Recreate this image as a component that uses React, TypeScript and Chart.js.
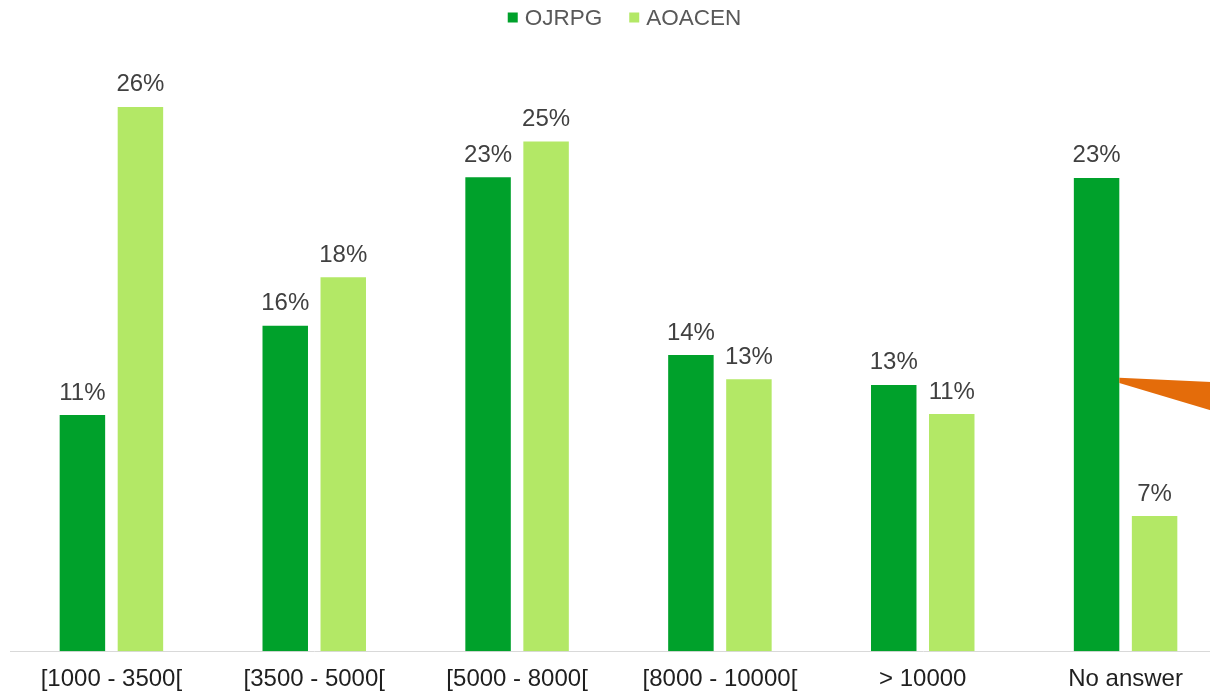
import React, { useEffect, useRef } from "react";
import { Chart, registerables } from "chart.js";

Chart.register(...registerables);

// Income brackets and the share of respondents in each
const categories = ["[1000 - 3500[", "[3500 - 5000[", "[5000 - 8000[", "[8000 - 10000[", "> 10000", "No answer"];
const seriesNames = ["OJRPG", "AOACEN"];
const ojrpgValues = [11.44, 15.77, 22.96, 14.35, 12.9, 22.93];
const aoacenValues = [26.37, 18.12, 24.7, 13.17, 11.49, 6.55];
const seriesColors = ["#00A12B", "#B3E866"];

// Orange callout pointer: tip at the last OJRPG bar, widening to the right (values in %)
const calloutTip = [13.25, 13.0];
const calloutFarCategory = 5.9;
const calloutFar = [12.82, 10.26];

const FONT = "'Liberation Sans', Arial, 'DejaVu Sans', sans-serif";

const valueLabels = {
  id: "valueLabels",
  afterDatasetsDraw(chart: any) {
    const ctx = chart.ctx;
    ctx.save();
    ctx.font = `24px ${FONT}`;
    ctx.fillStyle = "#404040";
    ctx.textAlign = "center";
    ctx.textBaseline = "alphabetic";
    chart.data.datasets.forEach((ds: any, di: number) => {
      const meta = chart.getDatasetMeta(di);
      meta.data.forEach((bar: any, i: number) => {
        const v = ds.data[i];
        ctx.fillText(`${Math.round(v)}%`, bar.x, bar.y - 15.5);
      });
    });
    ctx.restore();
  },
};

const callout = {
  id: "callout",
  afterDatasetsDraw(chart: any) {
    const ctx = chart.ctx;
    const y = chart.scales.y;
    const x = chart.scales.x;
    const bar: any = chart.getDatasetMeta(0).data[categories.length - 1];
    const tipX = bar.x + bar.width / 2;
    const farX = x.getPixelForValue(calloutFarCategory);
    ctx.save();
    ctx.fillStyle = "#E46C0A";
    ctx.beginPath();
    ctx.moveTo(tipX, y.getPixelForValue(calloutTip[0]));
    ctx.lineTo(farX, y.getPixelForValue(calloutFar[0]));
    ctx.lineTo(farX, y.getPixelForValue(calloutFar[1]));
    ctx.lineTo(tipX, y.getPixelForValue(calloutTip[1]));
    ctx.closePath();
    ctx.fill();
    ctx.restore();
  },
};

const topLegend = {
  id: "topLegend",
  afterDraw(chart: any) {
    const ctx = chart.ctx;
    const box = 10;
    const textGap = 7;
    const itemGap = 27;
    const cy = 17.5;
    ctx.save();
    ctx.font = `22.5px ${FONT}`;
    const items = chart.data.datasets.map((ds: any) => ({
      label: ds.label,
      color: ds.backgroundColor,
      w: ctx.measureText(ds.label).width,
    }));
    const total =
      items.reduce((s: number, it: any) => s + box + textGap + it.w, 0) + itemGap * (items.length - 1);
    let cx = chart.width / 2 - total / 2;
    ctx.textBaseline = "middle";
    ctx.textAlign = "left";
    items.forEach((it: any) => {
      ctx.fillStyle = it.color;
      ctx.fillRect(cx, cy - box / 2, box, box);
      cx += box + textGap;
      ctx.fillStyle = "#595959";
      ctx.fillText(it.label, cx, cy + 1);
      cx += it.w + itemGap;
    });
    ctx.restore();
  },
};

export default function App() {
  const canvasRef = useRef<HTMLCanvasElement | null>(null);

  useEffect(() => {
    if (!canvasRef.current) return;
    const chart = new Chart(canvasRef.current, {
      type: "bar",
      data: {
        labels: categories,
        datasets: [
          {
            label: seriesNames[0],
            data: ojrpgValues,
            backgroundColor: seriesColors[0],
            categoryPercentage: 0.572,
            barPercentage: 0.784,
          },
          {
            label: seriesNames[1],
            data: aoacenValues,
            backgroundColor: seriesColors[1],
            categoryPercentage: 0.572,
            barPercentage: 0.784,
          },
        ],
      },
      options: {
        animation: false,
        responsive: true,
        maintainAspectRatio: false,
        layout: { padding: { top: 32, left: 10, right: 22, bottom: 0 } },
        plugins: {
          legend: { display: false },
          tooltip: { enabled: false },
        },
        scales: {
          x: {
            grid: { display: false, drawTicks: false },
            border: { display: true, color: "#D9D9D9", width: 1 },
            ticks: {
              color: "#1F1F1F",
              padding: 14,
              font: { family: FONT, size: 24 },
              maxRotation: 0,
              autoSkip: false,
            },
          },
          y: {
            display: false,
            min: 0,
            max: 30,
          },
        },
      },
      plugins: [valueLabels, callout, topLegend],
    });
    return () => chart.destroy();
  }, []);

  return (
    <div
      style={{
        position: "fixed",
        left: 0,
        top: 0,
        width: 1210,
        height: 693,
        overflow: "hidden",
        background: "#ffffff",
      }}
    >
      <div style={{ position: "relative", width: 1249, height: 708 }}>
        <canvas ref={canvasRef} />
      </div>
    </div>
  );
}
